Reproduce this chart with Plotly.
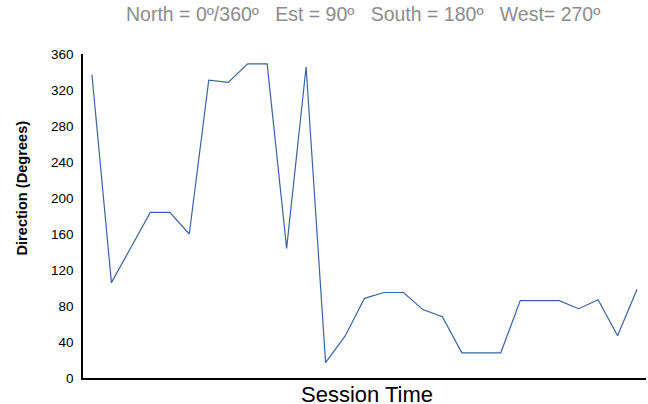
import plotly.graph_objects as go

session = list(range(29))
direction = [337, 106, 145, 184, 184, 160, 331, 328.5, 349, 349, 144, 345.5, 17, 46.5, 88.5,
             95, 95, 76, 68, 28, 28, 28, 86, 86, 86, 77, 87, 47, 98.5]
y_ticks = [0, 40, 80, 120, 160, 200, 240, 280, 320, 360]
sp = "\u00a0\u00a0\u00a0"
title_text = "North = 0º/360º" + sp + "Est = 90º" + sp + "South = 180º" + sp + "West= 270º"

fig = go.Figure()
fig.add_trace(go.Scatter(x=session, y=direction, mode="lines",
                         line=dict(color="#3a64a0", width=1.2), hoverinfo="skip"))

fig.update_layout(
    width=648, height=404,
    margin=dict(l=83, r=2, t=54, b=26),
    paper_bgcolor="white", plot_bgcolor="white",
    showlegend=False,
    font=dict(family="Liberation Sans, Arial, sans-serif", color="black"),
)
fig.update_xaxes(range=[-0.46, 28.46], showticklabels=False, showgrid=False, zeroline=False,
                 showline=True, linecolor="black", linewidth=1.7, ticks="")
fig.update_yaxes(range=[0, 360], tickvals=y_ticks, showgrid=False, zeroline=False,
                 showline=True, linecolor="black", linewidth=1.7, ticks="",
                 tickfont=dict(size=13.5), ticklabelstandoff=5)
fig.add_annotation(text=title_text, showarrow=False, font=dict(size=19.5, color="#8c8c8c"))
fig.add_annotation(text="Session Time", showarrow=False, font=dict(size=22))
fig.add_annotation(text="<b>Direction (Degrees)</b>", showarrow=False,
                   textangle=-90, font=dict(size=14.6))

# place annotations in pixel terms relative to plot area (l=83, t=54, w=563, h=324)
def px_to_paper(px, py):
    return (px - 83) / 563.0, (378 - py) / 324.0

for ann, (px, py) in zip(fig.layout.annotations, [(363, 14), (367, 394), (21.5, 188)]):
    ax, ay = px_to_paper(px, py)
    ann.update(xref="paper", yref="paper", x=ax, y=ay, xanchor="center", yanchor="middle")

fig.write_html("out.html", config={"displayModeBar": False},
               post_script="document.body.style.margin='0';")
